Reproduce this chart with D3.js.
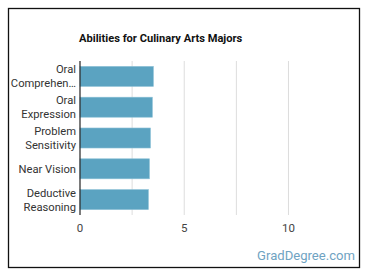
<!DOCTYPE html>
<html><head><meta charset="utf-8">
<script src="https://cdn.jsdelivr.net/npm/d3@7"></script>
<style>body{margin:0;background:#fff;} svg{display:block;font-family:Roboto,"Noto Sans",sans-serif;}</style>
</head><body>
<script>
const categories = [["Oral","Comprehen\u2026"],["Oral","Expression"],["Problem","Sensitivity"],["Near Vision"],["Deductive","Reasoning"]];
const values = [3.52, 3.47, 3.38, 3.33, 3.28];
const gridTicks = [2.5, 5, 7.5, 10];
const tickLabels = [0, 5, 10];
const title = "Abilities for Culinary Arts Majors";
const credit = "GradDegree.com";

const W = 370, H = 278;
const svg = d3.select("body").append("svg").attr("width", W).attr("height", H);
svg.append("rect").attr("x", 8.5).attr("y", 8.5).attr("width", 351).attr("height", 259)
  .attr("fill", "#fff").attr("stroke", "#111").attr("stroke-width", 1.3);

const x = d3.scaleLinear().domain([0, 12.5]).range([80, 340.6]);
const y = d3.scaleBand().domain(d3.range(categories.length)).range([61, 215]).paddingInner(0.35).paddingOuter(0.175);

svg.append("g").selectAll("line").data(gridTicks).join("line")
  .attr("x1", d => x(d)).attr("x2", d => x(d)).attr("y1", 61).attr("y2", 215)
  .attr("stroke", "#ddd").attr("stroke-width", 1);

svg.append("g").selectAll("rect").data(values).join("rect")
  .attr("x", x(0)).attr("y", (d, i) => y(i)).attr("width", d => x(d) - x(0)).attr("height", y.bandwidth())
  .attr("fill", "#5ba3c1").attr("stroke", "#8cc0d6").attr("stroke-width", 0.6);

svg.append("line").attr("x1", x(0)).attr("x2", x(0)).attr("y1", 61).attr("y2", 215)
  .attr("stroke", "#222").attr("stroke-width", 1.2);

const lab = svg.append("g").selectAll("text").data(categories).join("text")
  .attr("text-anchor", "end").attr("font-size", 11.2).attr("fill", "#333")
  .attr("x", 76);
lab.each(function(lines, i) {
  const cy = y(i) + y.bandwidth() / 2;
  const lh = 14;
  const t = d3.select(this);
  lines.forEach((s, k) => {
    t.append("tspan").attr("x", 76)
      .attr("y", cy + (k - (lines.length - 1) / 2) * lh).attr("dy", "0.35em").text(s);
  });
});

svg.append("g").selectAll("text").data(tickLabels).join("text")
  .attr("x", d => x(d)).attr("y", 228).attr("dy", "0.35em").attr("text-anchor", "middle")
  .attr("font-size", 11.5).attr("fill", "#444").text(d => d);

svg.append("text").attr("x", 79).attr("y", 42).attr("font-size", 11.1).attr("font-weight", "bold")
  .attr("fill", "#111").text(title);

svg.append("text").attr("x", 355).attr("y", 255).attr("dy", "0.35em").attr("text-anchor", "end")
  .attr("font-size", 13.1).attr("fill", "#6fa3c2").text(credit);
</script>
</body></html>
